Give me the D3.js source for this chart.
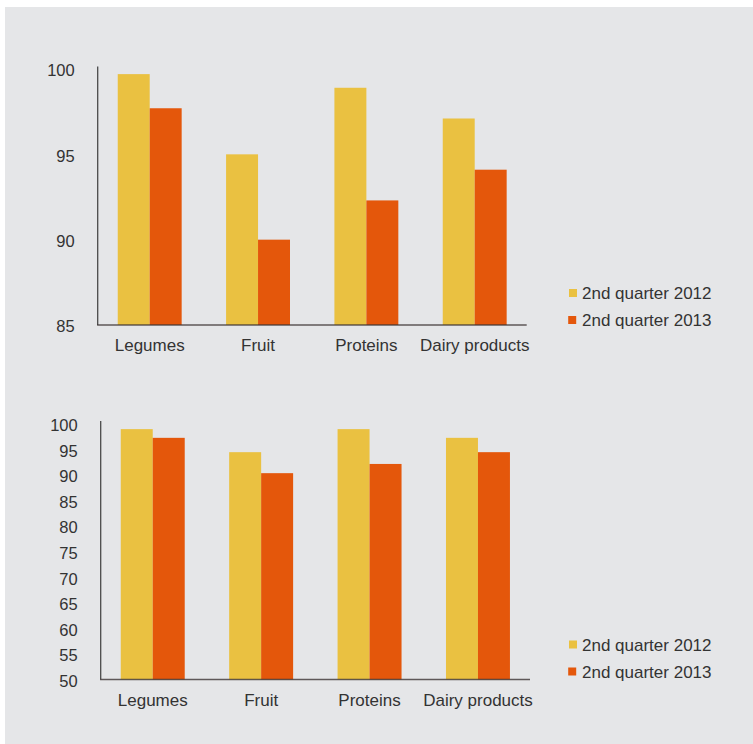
<!DOCTYPE html>
<html>
<head>
<meta charset="utf-8">
<script src="https://cdn.jsdelivr.net/npm/d3@7"></script>
<style>
  html, body { margin: 0; padding: 0; background: #ffffff; }
  svg { display: block; }
  text { font-family: "Liberation Sans", Arial, sans-serif; fill: #333333; }
</style>
</head>
<body>
<svg id="chart" width="753" height="744"></svg>
<script>
// Food price index by category, Q2 2012 vs Q2 2013
const categories = ["Legumes", "Fruit", "Proteins", "Dairy products"];
const seriesNames = ["2nd quarter 2012", "2nd quarter 2013"];
const seriesColors = ["#eac141", "#e4570b"];

// Upper panel (axis starting at 85)
const zoomedQ2012 = [99.7, 95.0, 98.9, 97.1];
const zoomedQ2013 = [97.7, 90.0, 92.3, 94.1];
const zoomedTicks = [85, 90, 95, 100];

// Lower panel (axis starting at 50)
const fullQ2012 = [98.9, 94.4, 98.9, 97.2];
const fullQ2013 = [97.2, 90.3, 92.1, 94.4];
const fullTicks = [50, 55, 60, 65, 70, 75, 80, 85, 90, 95, 100];

const svg = d3.select("#chart");

// panel background
svg.append("rect")
  .attr("x", 5).attr("y", 7)
  .attr("width", 748).attr("height", 737)
  .attr("fill", "#e5e6e8");

function drawPanel(opts) {
  const { left, right, top, bottom, domain, ticks, s2012, s2013, legendY } = opts;
  const g = svg.append("g");

  const x = d3.scaleBand()
    .domain(categories)
    .range([left, right])
    .paddingInner(0.41)
    .paddingOuter(0.185);

  const xs = d3.scaleBand()
    .domain(seriesNames)
    .range([0, x.bandwidth()]);

  const y = d3.scaleLinear().domain(domain).range([bottom, top]);

  const rows = categories.map((c, i) => ({
    category: c,
    values: [
      { series: seriesNames[0], value: s2012[i], color: seriesColors[0] },
      { series: seriesNames[1], value: s2013[i], color: seriesColors[1] }
    ]
  }));

  // bars
  g.selectAll("g.group")
    .data(rows)
    .join("g")
    .attr("class", "group")
    .attr("transform", d => `translate(${x(d.category)},0)`)
    .selectAll("rect")
    .data(d => d.values)
    .join("rect")
    .attr("x", d => xs(d.series))
    .attr("y", d => y(d.value))
    .attr("width", xs.bandwidth())
    .attr("height", d => y(domain[0]) - y(d.value))
    .attr("fill", d => d.color);

  // y axis: line plus labels, no tick marks
  const yAxis = d3.axisLeft(y)
    .tickValues(ticks)
    .tickSize(0)
    .tickPadding(23)
    .tickFormat(d3.format("d"));
  const ya = g.append("g")
    .attr("transform", `translate(${left},0)`)
    .call(yAxis);
  ya.select(".domain").remove();
  ya.selectAll("text")
    .attr("font-size", "16.5px")
    .attr("dy", "0.42em")
    .style("fill", "#333");
  ya.append("line")
    .attr("x1", 0).attr("x2", 0)
    .attr("y1", y(domain[1]) - 2.5)
    .attr("y2", y(domain[0]))
    .attr("stroke", "#4a4a4a")
    .attr("stroke-width", 1.3);

  // x axis: baseline plus category labels
  const xAxis = d3.axisBottom(x).tickSize(0).tickPadding(14);
  const xa = g.append("g")
    .attr("transform", `translate(0,${y(domain[0])})`)
    .call(xAxis);
  xa.select(".domain").remove();
  xa.selectAll("text")
    .attr("font-size", "17px")
    .attr("dy", "0.71em")
    .style("fill", "#333");
  xa.append("line")
    .attr("x1", left - 0.6).attr("x2", right)
    .attr("y1", 0).attr("y2", 0)
    .attr("stroke", "#3c3535")
    .attr("stroke-opacity", 0.8)
    .attr("stroke-width", 1.6);

  // legend
  const lg = g.selectAll("g.legend")
    .data(seriesNames)
    .join("g")
    .attr("class", "legend")
    .attr("transform", (d, i) => `translate(569,${legendY[i]})`);
  lg.append("rect")
    .attr("x", (d, i) => -i * 0.8)
    .attr("y", -4)
    .attr("width", 8).attr("height", 8)
    .attr("fill", (d, i) => seriesColors[i]);
  lg.append("text")
    .attr("x", 13)
    .attr("dy", "0.36em")
    .attr("font-size", "17px")
    .text(d => d);
}

drawPanel({
  left: 97.7, right: 526.7, top: 69, bottom: 325,
  domain: [85, 100], ticks: zoomedTicks,
  s2012: zoomedQ2012, s2013: zoomedQ2013,
  legendY: [293, 320]
});

drawPanel({
  left: 100.7, right: 530, top: 423.5, bottom: 679.5,
  domain: [50, 100], ticks: fullTicks,
  s2012: fullQ2012, s2013: fullQ2013,
  legendY: [644.5, 671.5]
});
</script>
</body>
</html>
